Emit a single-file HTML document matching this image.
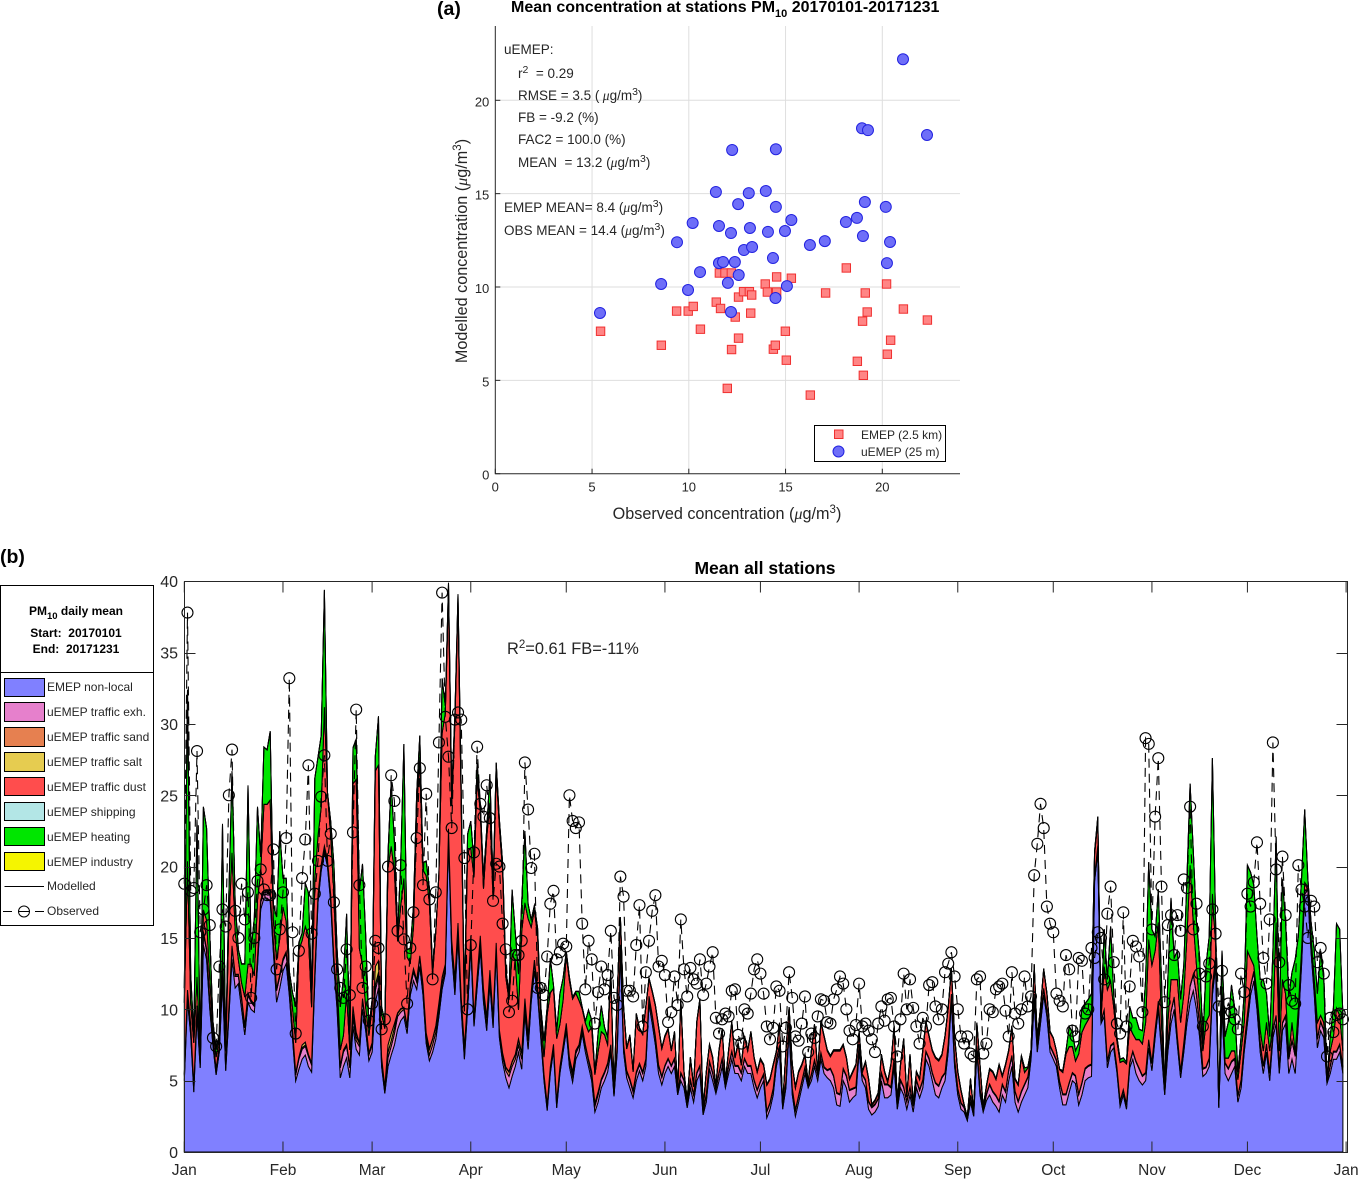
<!DOCTYPE html>
<html lang="en">
<head>
<meta charset="utf-8">
<title>PM10 mean concentration</title>
<style>
html,body{margin:0;padding:0;background:#fff;width:1359px;height:1179px;overflow:hidden}
svg{display:block}
text{font-family:"Liberation Sans",Arial,sans-serif;fill:#262626}
.b{font-weight:bold;fill:#000}
.mu{font-family:"Liberation Serif",serif;font-style:italic}
.st{font-size:13.5px}
.lg{font-size:12px}
</style>
</head>
<body>
<svg id="fig" xmlns="http://www.w3.org/2000/svg" width="1359" height="1179" viewBox="0 0 1359 1179">
  <g id="scatter"></g>
  <g id="timeseries"></g>

  <text x="437" y="15" class="b" font-size="19.5">(a)</text>
  <text x="511" y="12" class="b" font-size="16">Mean concentration at stations PM<tspan dy="5" font-size="11">10</tspan><tspan dy="-5"> 20170101-20171231</tspan></text>

  <g class="st">
    <text x="504" y="54" class="st">uEMEP:</text>
    <text x="518" y="78" class="st">r<tspan dy="-5" font-size="10.5">2</tspan><tspan dy="5">&#160;&#160;= 0.29</tspan></text>
    <text x="518" y="100" class="st">RMSE = 3.5 (<tspan class="mu">&#160;μ</tspan>g/m<tspan dy="-5" font-size="10.5">3</tspan><tspan dy="5">)</tspan></text>
    <text x="518" y="122" class="st">FB = -9.2 (%)</text>
    <text x="518" y="144" class="st">FAC2 = 100.0 (%)</text>
    <text x="518" y="167" class="st">MEAN&#160;&#160;= 13.2 (<tspan class="mu">μ</tspan>g/m<tspan dy="-5" font-size="10.5">3</tspan><tspan dy="5">)</tspan></text>
    <text x="504" y="212" class="st">EMEP MEAN= 8.4 (<tspan class="mu">μ</tspan>g/m<tspan dy="-5" font-size="10.5">3</tspan><tspan dy="5">)</tspan></text>
    <text x="504" y="235" class="st">OBS MEAN = 14.4 (<tspan class="mu">μ</tspan>g/m<tspan dy="-5" font-size="10.5">3</tspan><tspan dy="5">)</tspan></text>
  </g>

  <text x="727" y="519" text-anchor="middle" font-size="16.2">Observed concentration (<tspan class="mu">μ</tspan>g/m<tspan dy="-6" font-size="11.5">3</tspan><tspan dy="6">)</tspan></text>
  <text transform="translate(467,251) rotate(-90)" text-anchor="middle" font-size="16.2">Modelled concentration (<tspan class="mu">μ</tspan>g/m<tspan dy="-6" font-size="11.5">3</tspan><tspan dy="6">)</tspan></text>

  <g>
    <rect x="814.5" y="425.5" width="131" height="36" fill="#fff" stroke="#000"/>
    <rect x="834.5" y="430" width="8.5" height="8.5" fill="#ff8585" stroke="#f03030"/>
    <text x="861" y="439" font-size="12">EMEP (2.5 km)</text>
    <circle cx="838.5" cy="451.5" r="5.5" fill="#6e6ef8" stroke="#2222e0"/>
    <text x="861" y="456" font-size="12">uEMEP (25 m)</text>
  </g>

  <text x="0" y="563" class="b" font-size="19.5">(b)</text>
  <text x="765" y="574" text-anchor="middle" class="b" font-size="17.5">Mean all stations</text>
  <text x="507" y="654" font-size="16.4">R<tspan dy="-6" font-size="11.5">2</tspan><tspan dy="6">=0.61 FB=-11%</tspan></text>

  <g>
    <rect x="0.5" y="585.5" width="153" height="340" fill="#fff" stroke="#000"/>
    <line x1="0.5" x2="153.5" y1="672.5" y2="672.5" stroke="#000"/>
    <text x="76" y="615" text-anchor="middle" class="b" font-size="12">PM<tspan dy="4" font-size="9.5">10</tspan><tspan dy="-4"> daily mean</tspan></text>
    <text x="76" y="637" text-anchor="middle" class="b" font-size="12">Start:&#160; 20170101</text>
    <text x="76" y="653" text-anchor="middle" class="b" font-size="12">End:&#160; 20171231</text>

    <rect x="4.5" y="678.5" width="40" height="18" fill="#8080ff" stroke="#000"/>
    <text x="47" y="691" class="lg">EMEP non-local</text>
    <rect x="4.5" y="702.5" width="40" height="19" fill="#e680cc" stroke="#000"/>
    <text x="47" y="716" class="lg">uEMEP traffic exh.</text>
    <rect x="4.5" y="727.5" width="40" height="19" fill="#e68050" stroke="#000"/>
    <text x="47" y="741" class="lg">uEMEP traffic sand</text>
    <rect x="4.5" y="752.5" width="40" height="19" fill="#e6cc50" stroke="#000"/>
    <text x="47" y="766" class="lg">uEMEP traffic salt</text>
    <rect x="4.5" y="777.5" width="40" height="18" fill="#ff4d4d" stroke="#000"/>
    <text x="47" y="791" class="lg">uEMEP traffic dust</text>
    <rect x="4.5" y="802.5" width="40" height="18" fill="#b3e6e6" stroke="#000"/>
    <text x="47" y="816" class="lg">uEMEP shipping</text>
    <rect x="4.5" y="827.5" width="40" height="18" fill="#00e600" stroke="#000"/>
    <text x="47" y="841" class="lg">uEMEP heating</text>
    <rect x="4.5" y="852.5" width="40" height="18" fill="#f5f500" stroke="#000"/>
    <text x="47" y="866" class="lg">uEMEP industry</text>
    <line x1="4.5" x2="44" y1="886.5" y2="886.5" stroke="#000"/>
    <text x="47" y="890" class="lg">Modelled</text>
    <line x1="3" x2="12" y1="911.5" y2="911.5" stroke="#000"/>
    <line x1="18" x2="30" y1="911.5" y2="911.5" stroke="#000"/>
    <line x1="35" x2="44" y1="911.5" y2="911.5" stroke="#000"/>
    <circle cx="24" cy="911.5" r="5.5" fill="none" stroke="#000"/>
    <text x="47" y="915" class="lg">Observed</text>
  </g>
</svg>

<script>
// ---------- Panel (a) data ----------
const emepObserved = [5.44,8.58,9.37,9.97,10.23,10.6,11.42,11.64,11.58,11.87,12.2,11.99,12.21,12.4,12.57,12.57,12.83,13.13,13.2,13.25,13.95,14.06,14.37,14.47,14.54,14.54,14.99,15.04,15.3,16.28,17.07,18.14,18.71,18.98,19.02,19.12,19.22,20.22,20.26,20.43,21.09,22.33];
const emepModelled = [7.63,6.88,8.71,8.71,8.96,7.74,9.19,8.85,10.75,10.75,10.75,4.57,6.65,8.39,7.26,9.46,9.75,9.75,8.6,9.57,10.16,9.73,6.67,6.88,9.73,10.54,7.63,6.08,10.47,4.21,9.68,11.02,6.02,8.17,5.27,9.68,8.66,10.16,6.4,7.15,8.82,8.23];
const uemepObserved = [21.07,22.31,18.95,19.26,12.24,14.5,11.4,13.1,13.98,12.55,14.5,19.1,20.18,10.2,11.56,12.18,13.16,14.09,14.97,15.3,18.12,18.69,19,20.4,16.26,17.03,9.39,12.85,13.27,14.35,20.24,11.56,11.77,12.38,12.58,12.02,8.57,9.96,10.58,15.07,14.48,12.18,5.41];
const uemepModelled = [22.2,18.14,18.5,18.4,17.34,17.38,15.09,15.03,15.14,14.44,14.29,14.55,14.29,13.43,13.27,12.89,13.16,12.95,13,13.59,13.48,13.7,12.73,12.41,12.25,12.46,12.4,11.98,12.14,11.55,11.28,11.28,11.34,11.34,10.64,10.22,10.16,9.84,10.8,10.05,9.41,8.66,8.61];
const scatterXTicks = [0,5,10,15,20];
const scatterYTicks = [0,5,10,15,20];

// ---------- Panel (b) data (µg/m3, one value per day) ----------
const monthLabels = ['Jan','Feb','Mar','Apr','May','Jun','Jul','Aug','Sep','Oct','Nov','Dec','Jan'];
const monthStartDays = [0,31,59,90,120,151,181,212,243,273,304,334,365];
const concentrationTicks = [0,5,10,15,20,25,30,35,40];

const emepNonLocal = [
5,10.6,8.2,4.2,9.5,5.9,14.5,13.5,10,7.5,5.4,7,12,5.7,9.5,13.5,11.5,11.8,10,8.2,10.5,10,9.8,13,17,17.8,17.8,17.6,14,10.5,11.5,
12.7,13.2,11,8,5,5.8,6.5,6.8,6,5.6,12,17.5,19.7,21,20,17.5,13,10,5.2,6,6.6,5.2,8.8,7.2,6.8,10,8.5,6.4,
7,10.5,11.5,6,4.1,6,6.8,7.5,8.6,9.2,9.5,8.3,11,12,11.4,13,11,7.6,6.4,7,7.9,9.5,11.4,12.5,22,14,11,15,10,6.5,10,
14.4,8.8,11.5,14.2,10.5,8.5,11.8,8.7,14,8,6.3,5.2,4.5,5.3,6,7,5.8,9.7,7.2,10.5,12.7,11,8,5,2.9,5.5,7.1,3.1,5.5,7,
8.5,6,4.9,6.5,7,8.3,7,6,5,2.8,3.5,4.5,5,5.6,7,3.9,7,14,7,5.2,4.5,3.8,5,5.7,5,6,10.4,9,7.5,5.5,4.7,
5.5,6,5.5,6,4,5,4.5,3.1,4.5,3.5,5,5.5,2.6,3.5,5.8,5,4.1,5,6,4.5,5.5,6.5,5.5,5.5,5,6,5.5,5.5,4.5,3.8,
4.5,5,2.4,3,4,6,7,3,4.5,8.5,4,2.5,3.5,4.5,5.5,4.5,5,6,5,6.5,5.5,5.2,5,4.5,3.3,3.2,5,4.5,3.5,3.8,4,
7,5,4.5,3,2.6,2.8,3.2,5,3.8,3.8,4,6,3,4.5,4,3,4,2.8,4.5,3.8,4.5,6.5,6,5,4,3.8,4.5,5,7,10.5,6,
4,3,2.8,2.2,3.5,2.5,7,4,2.8,3.6,4,3.5,3.2,2.8,4,3.5,5,6,3.5,2.8,3.5,4,4.5,6.5,10.5,7,9,11,9.5,7,
6.5,6,4.5,3.3,3.3,4.2,5,4.8,3.3,4,5,5.2,5.3,19,21,9,9.5,5.9,7,7.3,5.6,3.2,4,3,5.9,6.5,5.5,5,4.7,5,7.3,
5.7,8,10,7,4,7,9,10,7.5,5.2,7,9,10.5,11.3,10,8,5.3,5.5,6,11,13,3.1,10,5.5,5,5.5,6,3.5,4.5,7,
9,11,12,10,7,5.5,7,5,8,9,5.5,8.5,9,5.5,6.5,5.5,9,13,18,18,14,11,7.3,8.5,8,4.8,5.5,6.5,6.5,7,5.5
];
const trafficExhaust = [
.3,.6,.6,.3,.6,.2,.8,.6,.5,.3,.3,.3,.5,.2,.5,.8,.8,.5,.7,.5,.5,.5,.4,.5,.5,.4,.4,.4,.6,.8,.8,
.7,.7,.6,.5,.4,.7,.7,.6,.7,.5,.5,.4,.3,.3,.3,.4,.5,.5,.7,1,.8,.7,.6,.6,.6,.6,.5,.4,
.5,.8,.8,.5,.3,.6,.6,.8,.9,.6,.5,.4,.5,.6,.5,.6,.5,.4,.4,.5,.5,.5,.4,.3,.5,.6,.5,.5,.5,.5,.5,
.5,.4,.5,.6,.5,.4,.5,.4,.4,.3,.4,.5,.8,.7,.5,.5,.7,.6,.6,.5,.5,.4,.4,.3,.3,.3,.3,.3,.3,.3,
.4,.4,.4,.4,.4,.4,.4,.4,.4,.4,.5,.5,.5,.5,.4,.1,.4,.4,.4,.4,.5,.4,.5,.4,.5,.4,.4,.5,.5,.5,.5,
.5,.5,.5,.5,.1,.5,.5,.3,.5,.5,.5,.5,.2,.5,.5,.5,.3,.5,.5,.2,.5,.5,.5,.5,.5,.5,.5,.5,.5,.5,
.4,.4,.4,.4,.4,.4,.4,.1,.4,.4,.4,.4,.4,.4,.4,.1,.4,.4,.4,.4,.4,.5,.8,.8,.8,.8,.8,.8,.8,.6,.5,
.5,.4,.5,.5,.5,.5,.5,.5,.9,.9,.5,.5,.3,.5,.5,.5,.5,.4,.5,.5,.5,.5,.5,.5,.8,.8,.7,.5,.5,.5,.5,
.4,.4,.3,.05,.4,.2,.4,.4,.1,.4,.7,.7,.7,.7,.7,.7,.7,.7,.7,.7,.7,.7,.7,.3,.5,.4,.4,.4,.4,.4,
.4,.4,.4,.7,.7,.6,.5,.5,.7,.8,.8,.8,.8,.3,.4,.1,.4,.4,.4,.3,.3,.3,.3,.3,.3,.5,.8,.8,.6,.5,.5,
.5,.5,.5,.4,.1,.6,.8,.8,.5,.4,.6,.7,1.1,1.1,1,.8,.5,.4,.5,.6,.6,.05,.8,.7,.8,.8,.5,.4,.5,.5,
.6,.6,.6,.6,.6,.5,.5,.5,.5,.5,.5,.5,.5,1,1.3,1.2,.6,.5,.3,.3,.4,.5,.6,.6,.5,.1,.5,.5,.5,.5,.4
];
const trafficSand = [
.1,.1,.1,.1,.1,.1,.1,.1,.1,.1,.1,.1,.1,.1,.1,.1,.1,.1,.1,.1,.1,.1,.1,.1,.1,.1,.1,.1,.1,.1,.1,
.1,.1,.1,.1,.1,.1,.1,.1,.1,.1,.1,.1,.1,.1,.1,.1,.1,.1,.1,.1,.1,.1,.3,.3,.2,.1,.1,.1,
.1,.4,.3,.1,.1,.4,.4,.4,.2,.2,.1,.1,.2,.2,.1,.1,.2,.3,.4,.4,.4,.4,.4,.3,.1,.2,.6,.5,.3,.3,.2,
.2,.2,.2,.3,.4,.5,.4,.3,.2,.2,.2,.2,.3,.3,.3,.4,.4,.4,.3,.2,.2,.1,.1,.1,.1,.1,.1,.1,.1,.1,
.1,.2,.3,.2,.1,.1,.1,.1,.2,.2,.2,.1,.1,.1,.1,.05,.1,.1,.1,.1,.1,.1,.1,.1,.1,.1,.1,.1,.1,.1,.1,
.05,.05,.05,.05,.05,.05,.05,.05,.05,.05,.05,.05,.05,.05,.05,.05,.05,.05,.05,.05,.05,.05,.05,.05,.05,.05,.05,.05,.05,.05,
.05,.05,.05,.05,.05,.05,.05,.05,.05,.05,.05,.05,.05,.05,.05,.05,.05,.05,.05,.05,.05,.05,.05,.05,.05,.05,.05,.05,.05,.05,.05,
.05,.05,.05,.05,.05,.05,.05,.05,.05,.05,.05,.05,.05,.05,.05,.05,.05,.05,.05,.05,.05,.05,.05,.05,.05,.05,.05,.05,.05,.05,.05,
.05,.05,.05,.05,.05,.05,.05,.05,.05,.05,.05,.05,.05,.05,.05,.05,.05,.05,.05,.05,.05,.05,.05,.05,.05,.05,.05,.05,.05,.05,
.05,.05,.05,.05,.05,.05,.05,.05,.05,.05,.05,.05,.05,.05,.05,.05,.05,.05,.05,.05,.05,.05,.05,.05,.05,.05,.05,.05,.05,.05,.05,
.05,.05,.05,.05,.05,.05,.05,.05,.05,.05,.05,.05,.05,.05,.05,.05,.05,.05,.05,.05,.05,.05,.05,.05,.05,.05,.05,.05,.05,.05,
.05,.05,.05,.05,.05,.05,.05,.05,.05,.05,.05,.05,.05,.05,.05,.05,.05,.05,.05,.05,.05,.05,.05,.05,.05,.05,.05,.05,.05,.05,.05
];
const trafficSalt = [
.05,.05,.05,.05,.05,.05,.05,.05,.05,.05,.05,.05,.05,.05,.05,.05,.05,.05,.05,.05,.05,.05,.05,.05,.05,.05,.05,.05,.05,.05,.05,
.05,.05,.05,.05,.05,.05,.2,.2,.05,.05,.05,.05,.05,.05,.05,.05,.05,.05,.05,.05,.05,.05,.5,.3,.05,.05,.05,.05,
.05,1.3,.8,.05,.05,.5,.5,.3,.05,.05,.05,.05,.05,.05,.05,.05,.05,.05,.05,.05,.05,.05,.05,.05,.05,.05,.05,.05,.05,.05,.05,
.05,.05,.05,.05,.05,.05,.05,.05,.05,.05,.05,.05,.05,.05,.05,.05,.05,.05,.05,.05,.05,.05,.05,.05,.05,.05,.05,.05,.05,.05,
.02,.02,.02,.02,.02,.02,.02,.02,.02,.02,.02,.02,.02,.02,.02,.02,.02,.02,.02,.02,.02,.02,.02,.02,.02,.02,.02,.02,.02,.02,.02,
.02,.02,.02,.02,.02,.02,.02,.02,.02,.02,.02,.02,.02,.02,.02,.02,.02,.02,.02,.02,.02,.02,.02,.02,.02,.02,.02,.02,.02,.02,
.02,.02,.02,.02,.02,.02,.02,.02,.02,.02,.02,.02,.02,.02,.02,.02,.02,.02,.02,.02,.02,.02,.02,.02,.02,.02,.02,.02,.02,.02,.02,
.02,.02,.02,.02,.02,.02,.02,.02,.02,.02,.02,.02,.02,.02,.02,.02,.02,.02,.02,.02,.02,.02,.02,.02,.02,.02,.02,.02,.02,.02,.02,
.02,.02,.02,.02,.02,.02,.02,.02,.02,.02,.02,.02,.02,.02,.02,.02,.02,.02,.02,.02,.02,.02,.02,.02,.02,.02,.02,.02,.02,.02,
.02,.02,.02,.02,.02,.02,.02,.02,.02,.02,.02,.02,.02,.02,.02,.02,.02,.02,.02,.02,.02,.02,.02,.02,.02,.02,.02,.02,.02,.02,.02,
.02,.02,.02,.02,.02,.02,.02,.02,.02,.02,.02,.02,.02,.02,.02,.02,.02,.02,.02,.02,.02,.02,.02,.02,.02,.02,.02,.02,.02,.02,
.02,.02,.02,.02,.02,.02,.02,.02,.02,.02,.02,.02,.02,.02,.02,.02,.02,.02,.02,.02,.02,.02,.02,.02,.02,.02,.02,.02,.02,.02,.02
];
const trafficDust = [
5,9,1.5,3,2,.5,1.5,2,1.5,.7,.8,.5,1.5,1,6,6.5,3,1,1,2,2,2.5,2,4,2,6,6,6.5,1.5,2,2.5,
3.6,2.1,.4,1.5,2.1,7.5,7.3,8.1,8.3,3.9,6.5,4.1,4,9.7,4.7,4.1,4.5,1.5,1.1,1,3.6,1.1,15.6,17.7,6.6,2.4,1,1.2,
2.5,13.7,13.7,3,4.1,12.4,13.1,10.7,5,7.2,9,4.8,1.5,2.9,12.1,13.9,8,11,10.2,4.5,6.6,9,17.1,17.6,16.5,9.4,18,22.5,13.5,2.5,10.5,
6.1,9.8,14,8.7,7,12.6,11.7,8.4,12.1,14.2,12.8,6.3,5,7.5,6.5,2,8.5,6.7,8.2,4.5,3.5,3.6,1.1,1.2,6.3,5.2,3.9,4.4,3,3.2,
4.8,5.4,5.1,4,3.1,1.2,1.5,1.9,3.1,2,2.8,3.3,2.6,1.3,5,.1,3.5,1.8,2.6,1.5,3,1.3,4,2.4,2.6,3.6,1.2,1.6,2.1,2.6,1.9,
2,2,1,1.8,.1,5.1,.5,.1,1.5,.5,3.5,4.6,.1,1.5,1.1,1,.1,1.5,2,.1,1,2,.5,1.5,.5,1.5,1,2.3,1.5,1.2,
1.5,.6,1.8,1.6,1.6,.5,1.5,.1,2.1,1.1,1.6,1.5,1.6,1.1,.8,.1,1.6,2.4,.1,2.1,2.1,1.3,.8,1.7,2.9,3,1.6,1.2,.7,1.1,1.5,
.8,.1,1.2,1.5,.1,.2,.3,1.2,.8,.1,1.5,2.2,.1,1,3.3,.3,2.2,.1,.5,.7,2,2,1.5,1.5,1.7,1.7,1.5,2.5,2.5,1.7,1.5,
1.1,.8,.1,.05,1.1,.05,1.5,1.6,.1,.5,1,1.3,1.1,2.5,.5,1.8,1.3,2,.8,1.1,2.4,.8,.6,.2,2,.4,.6,1.3,1.1,.9,
1,.6,.8,1.5,2.8,2.5,1.8,1,2.8,3.5,3,3.2,3.5,1.5,1.7,.2,3,5,4.5,2.5,1.8,2.7,2,2.8,2.5,1.2,1.5,2,2.2,3.5,7,
6.8,5.5,5.5,1.6,.3,1.4,2.2,1.2,4,3.4,3.4,5.3,8.4,3.6,2,1.2,1.2,3.1,3,6.4,.9,.05,.7,.3,.7,.7,.5,1.1,2,1.5,
4.4,1.9,.4,.4,.9,1,1.5,1.5,.5,6.5,1,3,1.5,.3,1.2,.2,.4,.5,.5,.2,.6,.5,1.1,.4,.5,.1,1,1,3,2,1.1
];
const heating = [
1,12,2,.5,11,.5,7.2,6.4,3,.5,.5,.3,8.8,.5,2,5.7,2,.7,1.3,2.3,12.5,1,4,6.5,1,4,3.8,4.8,1,3,7.5,
2,3,.5,1,2.5,.5,.5,3,3,1,7,5.5,5,8.2,0,1,2,2,3,4,5.5,.5,2.5,2.8,4,7,5,.5,
.5,1,3.4,.5,.5,1,4.5,2,.5,3,9.4,.5,1,1.5,1,1.5,.5,1,1,.3,0,0,3.8,.5,.7,1,.5,.5,1,.5,1,
1.9,1,1,.5,.8,.5,2,.8,.5,.5,.5,.5,.4,4.5,2,2.5,2,5,1,.5,.3,.5,.5,1.1,.5,2.4,.2,.5,2.1,1.5,
.2,.2,.1,.1,.6,.1,.1,1.5,.5,.1,1.3,1.8,.5,.5,.2,.1,.1,.1,.05,.05,.05,.05,.05,.05,.05,.05,.05,.05,.05,.05,.05,
.05,.05,.05,.05,.05,.05,.05,.05,.05,.05,.05,.05,.05,.05,.05,.05,.05,.05,.05,.05,.05,.05,.05,.05,.05,.05,.05,.05,.05,.05,
.05,.05,.05,.05,.05,.05,.05,.05,.05,.05,.05,.05,.05,.05,.05,.05,.05,.05,.05,.05,.05,.05,.05,.05,.05,.05,.05,.05,.05,.05,.05,
.05,.05,.05,.05,.05,.05,.05,.05,.05,.05,.05,.05,.05,.05,.05,.05,.05,.05,.05,.05,.05,.05,.05,.05,.05,.05,.05,.05,.05,.05,.05,
.05,.05,.05,.05,.05,.05,.05,.05,.05,.05,.05,.05,.05,.05,.05,.05,.05,.05,.05,.05,.05,.3,.05,.05,.05,.05,.05,.05,.05,.05,
0,0,0,.1,.2,1.4,1,.7,.7,1.7,1.5,1.4,1.4,.2,.3,.1,2.6,.7,3.8,.9,.3,.2,.2,.1,1.4,1.1,1.5,.7,.9,3,5.4,
2.5,1,2.3,3,.1,3,5.7,1.5,2,1.6,2,4,5.7,5,3,3.5,.5,4,5.5,9.5,1.5,0,2.5,1.5,2.5,4.6,3,.5,1,2,
6,6,5.6,4,3.5,5,2,1,5,6,2,7,5,4,3.5,6.5,5,5,5.1,.5,1,2,2,4.5,3,0,1,2,5.9,6,2.5
];
const shippingMonthly = [.02,.02,.02,.02,.02,.02,.02,.02,.02,.02,.02,.02];
const industryMonthly = [.02,.02,.02,.02,.02,.02,.02,.02,.02,.02,.02,.02];
const observed = [
18.8,37.8,18.3,18.5,28.1,15.4,17,18.7,15.9,8,7.4,13,17,15.8,25,28.2,16.9,15,18.8,16.3,18.2,10.8,15,19,19.8,18.4,18,18,21.2,12.8,15.6,
18.2,22,33.2,15.4,8.3,14.1,19.2,21.9,27.1,15.3,18.1,20.4,24.9,27.8,20.4,22.3,17.5,12.8,11.5,10.8,14.2,11,22.4,31,18.7,11.5,13,9.2,
10.4,14.8,14.3,8.6,9.3,20,26.4,24.6,15.5,20.1,14.9,10.4,14.3,16.8,22,26.9,18.7,25.1,17.7,12.1,18.2,28.7,39.2,30.5,27.7,22.7,30.3,30.8,30.3,20.6,10,
14.5,21,28.4,24.4,23.5,25.7,23.4,17.6,20.2,20,16,14.2,9.8,10.6,13.8,13.8,14.8,27.3,24,19.9,20.9,11.5,11.5,11,13.7,17.4,18.3,13.5,14,14.6,
14.4,25,23.2,22.7,23.1,16,11.4,14.8,13.5,9,11.2,13,11.4,12.4,15.5,10.8,10.3,19.3,17.9,11.3,11.3,10.9,14.5,17.3,8.8,12.6,14.8,16.9,18,13,13.4,
12.4,9.1,9.8,12.3,10.3,16.3,12.8,10.9,12.9,12.1,11.8,13.5,11,11.8,13,14,9.4,8.3,9.3,9.7,9.5,11.3,11.4,8.2,7.6,10,9.7,11.1,12.8,13.5,
12.5,11.1,8.8,7.9,8.7,11.6,11.3,7.4,8.7,12.6,10.8,8.1,7.8,9,10.9,7,8.3,8,9.5,10.7,10.6,9.1,9,10.7,11.4,12.3,11.8,10,8.5,7.9,8.9,
11.8,8.8,9,8.5,7.9,7,9,10.2,9.2,10.7,10.8,8.8,6.7,9.3,12.5,10,12.1,10.1,8.8,7.6,9.4,8.8,11.7,11.9,10.2,9.3,10,12.6,13.2,14,12.3,
10,8.1,7.6,8.1,6.9,6.7,12.1,12.3,6.9,7.6,10,9.8,11.4,11.6,11.8,9.9,8.1,12.6,9.7,9,10,12.3,10.2,10.9,19.4,21.6,24.4,22.7,17.2,16,
15.4,11.1,10.6,10.2,13.8,12.8,8.5,8.1,13.6,13.4,9.7,10,14.3,13.6,15.4,15,12.1,16.7,18.6,13.3,9,8.3,16.8,8.8,11.6,14.8,14.4,13.7,9.8,29,28.6,
15.6,23.5,27.6,18.6,10.5,15.9,16.6,13.8,16.6,15.5,19.1,18.5,24.2,15.6,17.4,12.5,8.8,12.3,13.2,17,15.3,10.2,12.7,9.7,10.4,9.8,9.3,8.6,12.5,11.2,
18.1,17.2,18.9,21.7,17.4,13.6,11.8,16.3,28.7,19.8,13.3,20.7,16.6,11.7,10.6,10.4,20.1,18.4,17.2,15,17.6,17.2,13.3,14.3,12.5,6.7,9.4,8.4,9.6,9.7,9.3
];

const NS = 'http://www.w3.org/2000/svg';
function mk(parent, tag, attrs, txt){
  const el = document.createElementNS(NS, tag);
  for (const k in attrs) el.setAttribute(k, attrs[k]);
  if (txt !== undefined) el.textContent = txt;
  parent.appendChild(el);
  return el;
}

// ---------- Panel (a) ----------
(function(){
  const g = document.getElementById('scatter');
  const sx = v => 495.3 + v * 19.35;
  const sy = v => 473.7 - v * 18.67;
  const TOP = 26, RIGHT = 960;
  scatterXTicks.forEach(t => {
    if (t > 0) {
      const gl = mk(g, 'line', {x1:sx(t), x2:sx(t), y1:TOP, y2:sy(0), stroke:'#dedede'});
      
      
    }
    const tk = mk(g, 'line', {x1:sx(t), x2:sx(t), y1:sy(0), y2:sy(0)-5, stroke:'#262626'});
    
    
    const lb = mk(g, 'text', {x:sx(t), y:sy(0)+18, 'text-anchor':'middle', 'font-size':13}, String(t));
    
    
  });
  scatterYTicks.forEach(t => {
    if (t > 0) {
      const gl = mk(g, 'line', {x1:sx(0), x2:RIGHT, y1:sy(t), y2:sy(t), stroke:'#dedede'});
      
      
    }
    const tk = mk(g, 'line', {x1:sx(0), x2:sx(0)+5, y1:sy(t), y2:sy(t), stroke:'#262626'});
    
    
    const lb = mk(g, 'text', {x:sx(0)-6, y:sy(t)+6, 'text-anchor':'end', 'font-size':13}, String(t));
    
    
  });
  const ax = mk(g, 'path', {d:`M${sx(0)} ${TOP}V${sy(0)}H${RIGHT}`, fill:'none', stroke:'#262626'});
  
  
  emepObserved.forEach((o,i) => {
    const m = mk(g, 'rect', {x:sx(o)-4.2, y:sy(emepModelled[i])-4.2, width:8.4, height:8.4, fill:'#ff8585', stroke:'#f03030'});
    
    
  });
  uemepObserved.forEach((o,i) => {
    const m = mk(g, 'circle', {cx:sx(o), cy:sy(uemepModelled[i]), r:5.5, fill:'#6e6ef8', stroke:'#2222e0'});
    
    
  });
})();

// ---------- Panel (b) ----------
(function(){
  const g = document.getElementById('timeseries');
  const sx = d => 184.3 + d * 3.183;
  const sy = v => 1152 - v * 14.27;
  const L = 184.5, R = 1347.5, T = 581.5, B = 1152.5;
  const monthOf = i => { let m = 0; while (m < 11 && i >= monthStartDays[m+1]) m++; return m; };
  const N = observed.length;
  const layers = [
    {name:'area-emep-non-local', fill:'#8080ff', v:i=>emepNonLocal[i]||0},
    {name:'area-traffic-exhaust', fill:'#e680cc', v:i=>trafficExhaust[i]||0},
    {name:'area-traffic-sand', fill:'#e68050', v:i=>trafficSand[i]||0},
    {name:'area-traffic-salt', fill:'#e6cc50', v:i=>trafficSalt[i]||0},
    {name:'area-traffic-dust', fill:'#ff4d4d', v:i=>trafficDust[i]||0},
    {name:'area-shipping', fill:'#b3e6e6', v:i=>shippingMonthly[monthOf(i)]},
    {name:'area-heating', fill:'#00e600', v:i=>heating[i]||0},
    {name:'area-industry', fill:'#f5f500', v:i=>industryMonthly[monthOf(i)]}
  ];
  const lower = new Array(N).fill(0);
  layers.forEach(l => {
    const upper = lower.map((b,i) => b + l.v(i));
    let d = '';
    for (let i=0;i<N;i++) d += (i?'L':'M') + sx(i).toFixed(1) + ' ' + sy(upper[i]).toFixed(1);
    for (let i=N-1;i>=0;i--) d += 'L' + sx(i).toFixed(1) + ' ' + sy(lower[i]).toFixed(1);
    const p = mk(g, 'path', {d:d+'Z', fill:l.fill, stroke:'#000', 'stroke-width':1, 'stroke-linejoin':'miter', 'stroke-miterlimit':6});
    
    
    upper.forEach((u,i) => lower[i] = u);
  });
  let md = '';
  for (let i=0;i<N;i++) md += (i?'L':'M') + sx(i).toFixed(1) + ' ' + sy(lower[i]).toFixed(1);
  const ml = mk(g, 'path', {d:md, fill:'none', stroke:'#000', 'stroke-width':1});
  
  
  let od = '';
  observed.forEach((v,i) => od += (i?'L':'M') + sx(i).toFixed(1) + ' ' + sy(v).toFixed(1));
  const ol = mk(g, 'path', {d:od, fill:'none', stroke:'#000', 'stroke-width':1.1, 'stroke-dasharray':'9 6'});
  
  
  observed.forEach((v,i) => {
    const c = mk(g, 'circle', {cx:sx(i), cy:sy(v), r:5.5, fill:'none', stroke:'#000', 'stroke-width':1.1});
    
    
  });
  const frame = mk(g, 'rect', {x:L, y:T, width:R-L, height:B-T, fill:'none', stroke:'#262626', 'stroke-width':1});
  
  
  concentrationTicks.forEach(t => {
    const y = Math.round(sy(t)) + .5;
    [[L,L+11],[R,R-11]].forEach(pair => {
      const tk = mk(g, 'line', {x1:pair[0], x2:pair[1], y1:y, y2:y, stroke:'#262626'});
      
      
    });
    const lb = mk(g, 'text', {x:178, y:sy(t)+6, 'text-anchor':'end', 'font-size':16}, String(t));
    
    
  });
  monthLabels.forEach((m,i) => {
    const x = sx(monthStartDays[i]);
    [[B,B-11],[T,T+11]].forEach(pair => {
      const tk = mk(g, 'line', {x1:x, x2:x, y1:pair[0], y2:pair[1], stroke:'#262626'});
      
      
    });
    const lb = mk(g, 'text', {x:x, y:1175, 'text-anchor':'middle', 'font-size':15.5}, m);
    
    
  });
})();
</script>
</body>
</html>
